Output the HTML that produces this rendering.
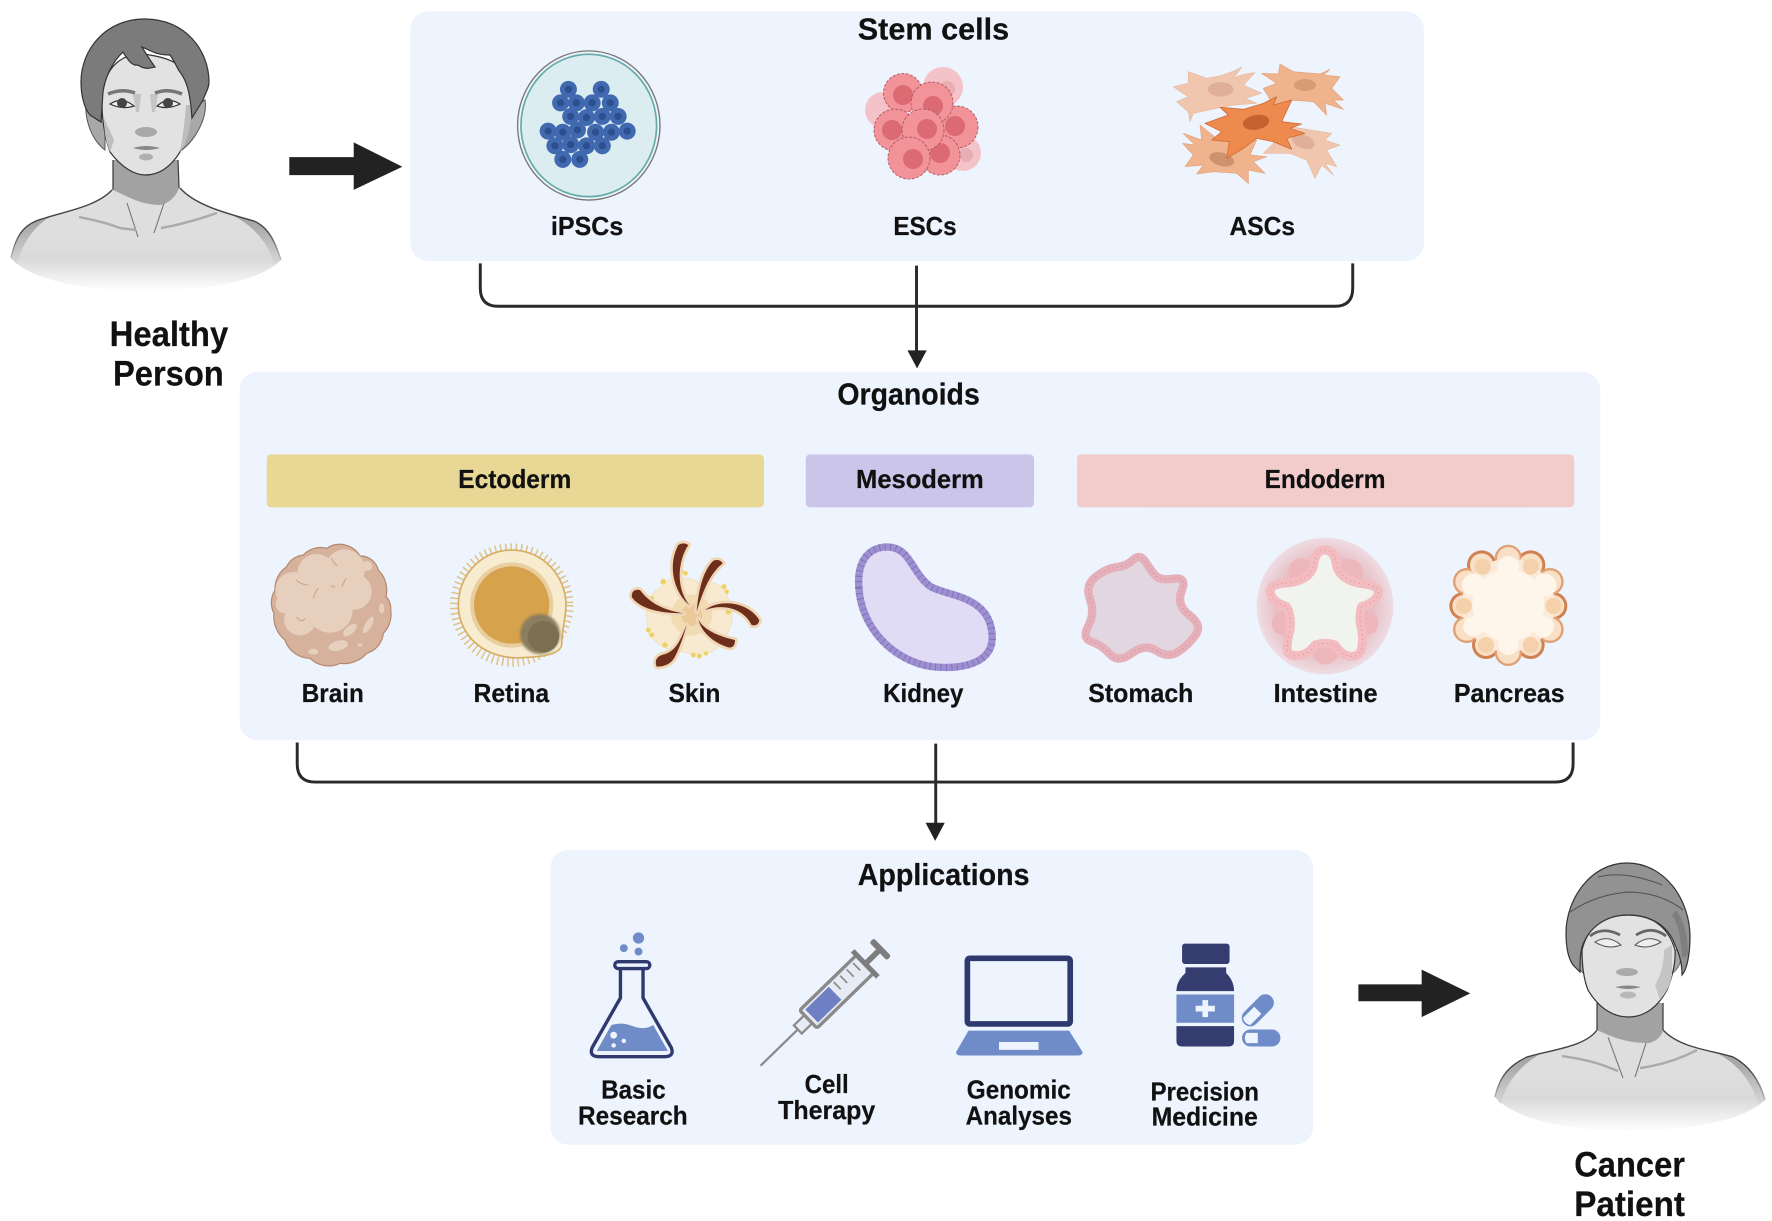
<!DOCTYPE html>
<html lang="en">
<head>
<meta charset="utf-8">
<title>Stem cells to organoids</title>
<style>
html,body{margin:0;padding:0;background:#fff}
svg{display:block}
text{font-family:"Liberation Sans",sans-serif;font-weight:bold;fill:#111;text-anchor:middle;stroke:#111;stroke-width:.2px}
.l{font-size:23px}
.h{font-size:27px}
.p{font-size:31px}
.a{font-size:23px}
</style>
</head>
<body>
<svg xmlns="http://www.w3.org/2000/svg" width="1772" height="1221" viewBox="0 0 1568 1080.4">
<defs>
<linearGradient id="fade1" gradientUnits="userSpaceOnUse" x1="0" y1="238" x2="0" y2="291"><stop offset="0" stop-color="#dedede"/><stop offset=".4" stop-color="#d9d9d9"/><stop offset="1" stop-color="#fff"/></linearGradient>
<linearGradient id="sh1" gradientUnits="userSpaceOnUse" x1="0" y1="225" x2="0" y2="268"><stop offset="0" stop-color="#a8a8a8"/><stop offset="1" stop-color="#dcdcdc"/></linearGradient>
<linearGradient id="ln1" gradientUnits="userSpaceOnUse" x1="0" y1="232" x2="0" y2="266"><stop offset="0" stop-color="#444"/><stop offset="1" stop-color="#ddd"/></linearGradient>
<linearGradient id="fade2" gradientUnits="userSpaceOnUse" x1="0" y1="1075" x2="0" y2="1132"><stop offset="0" stop-color="#dedede"/><stop offset=".4" stop-color="#d9d9d9"/><stop offset="1" stop-color="#fff"/></linearGradient>
<linearGradient id="sh2" gradientUnits="userSpaceOnUse" x1="0" y1="1065" x2="0" y2="1108"><stop offset="0" stop-color="#a8a8a8"/><stop offset="1" stop-color="#dcdcdc"/></linearGradient>
<linearGradient id="ln2" gradientUnits="userSpaceOnUse" x1="0" y1="1070" x2="0" y2="1108"><stop offset="0" stop-color="#444"/><stop offset="1" stop-color="#ddd"/></linearGradient>
<radialGradient id="intg" cx=".5" cy=".5" r=".5"><stop offset="0" stop-color="#dfa6ad"/><stop offset=".72" stop-color="#e8c0c7"/><stop offset="1" stop-color="#eedde3"/></radialGradient>
<filter id="b1" x="-30%" y="-30%" width="160%" height="160%"><feGaussianBlur stdDeviation="4"/></filter>
</defs>

<!-- panels -->
<rect x="363" y="10" width="897" height="221" rx="16" fill="#edf4fd"/>
<rect x="212" y="329" width="1204" height="326" rx="16" fill="#edf4fd"/>
<rect x="487" y="752" width="675" height="261" rx="16" fill="#edf4fd"/>

<!-- big arrows -->
<path d="M256,139H313V126L356,147.500L313,168V155H256Z" fill="#222"/>
<path d="M1202,871H1258V858L1301,879L1258,900V886H1202Z" fill="#222"/>

<!-- brackets -->
<g fill="none" stroke="#2a2a2a" stroke-width="2.600">
<path d="M425,233V255Q425,271 441,271H1181Q1197,271 1197,255V233"/>
<path d="M811,235V311"/>
<path d="M263,657V676Q263,692 279,692H1376Q1392,692 1392,676V657"/>
<path d="M828,658V729"/>
</g>
<path d="M803,310H820L811.500,326Z" fill="#222"/>
<path d="M819,728H836L827.500,744Z" fill="#222"/>

<!-- bands -->
<rect x="236" y="402" width="440" height="47" rx="4" fill="#e9d795"/>
<rect x="713" y="402" width="202" height="47" rx="4" fill="#cbc5e9"/>
<rect x="953" y="402" width="440" height="47" rx="4" fill="#f2cbcb"/>

<!-- all illustrations below use real reference pixel coordinates -->
<g transform="scale(.88488)">

<!-- healthy person -->
<g>
<path d="M11,258C16,235 24,226 36,221C60,212 95,208 112,190L180,188C195,205 225,213 254,221C270,228 276,245 281,260C262,280 210,291 146,291C85,291 30,280 11,258Z" fill="url(#fade1)"/>
<path d="M11,258C16,235 24,226 36,221L50,217C34,226 22,244 17,264Z" fill="url(#sh1)"/>
<path d="M281,260C276,245 270,228 254,221L232,215C250,224 268,240 274,264Z" fill="url(#sh1)"/>
<path d="M11,258C16,235 24,226 36,221C60,212 95,208 112,190M180,188C195,205 225,213 254,221C270,228 276,245 281,260" fill="none" stroke="url(#ln1)" stroke-width="1.400"/>
<path d="M113,160V190C125,195 140,205 160,205C170,203 176,196 179,188L178,160Z" fill="#a2a2a2"/>
<path d="M113,160V190M178,160L179,188" fill="none" stroke="#444" stroke-width="1.300"/>
<path d="M127,203L138,237M164,203L154,233" fill="none" stroke="#777" stroke-width="1.100"/>
<path d="M79,217Q105,222 120,228L136,230M161,228Q185,224 217,213" fill="none" stroke="#aaa" stroke-width="2.400"/>
<path d="M86,100C84,120 92,140 105,150L105,110ZM205,100C208,118 195,140 182,150L190,110Z" fill="#a8a8a8" stroke="#555"/>
<path d="M103,88C100,110 104,135 110,152C122,168 135,175 145,175C158,175 170,168 180,152C187,135 194,110 192,90C188,70 180,60 150,55C125,50 108,65 103,88Z" fill="#e2e2e2" stroke="#333" stroke-width="1.200"/>
<path d="M192,105C191,130 186,145 180,152C183,135 185,120 186,105ZM104,118C104,132 106,142 110,152L114,140Z" fill="#bdbdbd"/>
<path d="M133,94L141,94L139,112L136,112ZM150,94L158,94L155,112L152,112Z" fill="#c4c4c4"/>
<path d="M145,19C105,19 81,50 81,82C81,95 84,108 90,115L101,122L103,92C105,78 112,62 123,52C128,60 132,66 138,65C145,70 150,68 155,67C150,60 145,52 142,47C150,50 155,55 170,55C175,62 178,70 180,72C186,80 190,90 192,118L203,100C206,92 209,88 209,82C209,50 185,19 145,19Z" fill="#7b7b7b" stroke="#333" stroke-width="1.200"/>
<path d="M108,94Q122,88 135,93M155,93Q168,88 182,94" fill="none" stroke="#777" stroke-width="3.500"/>
<path d="M110,104Q122,96 134,106Q122,110 110,104ZM157,106Q168,96 180,104Q168,110 157,106Z" fill="#efefef" stroke="#333" stroke-width="1.200"/>
<circle cx="122" cy="103" r="5" fill="#444"/><circle cx="168" cy="103" r="5" fill="#444"/>
<ellipse cx="146" cy="132" rx="11" ry="5" fill="#a8a8a8"/>
<path d="M133,148Q146,144 160,148Q146,152 133,148Z" fill="#888"/>
<ellipse cx="146" cy="157" rx="7" ry="3.500" fill="#b0b0b0"/>
</g>

<!-- cancer patient -->
<g>
<path d="M1495,1097C1500,1075 1510,1065 1527,1057C1550,1050 1585,1047 1597,1030L1663,1030C1680,1048 1710,1050 1733,1057C1750,1066 1760,1082 1765,1100C1745,1120 1690,1131 1630,1131C1570,1131 1515,1120 1495,1097Z" fill="url(#fade2)"/>
<path d="M1495,1097C1500,1075 1510,1065 1527,1057L1540,1054C1520,1066 1506,1082 1501,1104Z" fill="url(#sh2)"/>
<path d="M1765,1100C1760,1082 1750,1066 1733,1057L1715,1052C1735,1062 1752,1080 1758,1104Z" fill="url(#sh2)"/>
<path d="M1495,1097C1500,1075 1510,1065 1527,1057C1550,1050 1585,1047 1597,1030M1663,1030C1680,1048 1710,1050 1733,1057C1750,1066 1760,1082 1765,1100" fill="none" stroke="url(#ln2)" stroke-width="1.400"/>
<path d="M1597,1003V1030C1610,1036 1625,1043 1648,1043C1656,1042 1662,1036 1663,1030V1003Z" fill="#a2a2a2"/>
<path d="M1597,1003V1030M1663,1003V1030" fill="none" stroke="#444" stroke-width="1.300"/>
<path d="M1608,1037L1623,1078M1646,1043L1635,1077" fill="none" stroke="#777" stroke-width="1.100"/>
<path d="M1562,1056Q1590,1060 1605,1066L1618,1071M1640,1068Q1670,1064 1697,1050" fill="none" stroke="#aaa" stroke-width="2.400"/>
<path d="M1574,950C1574,965 1580,972 1588,976L1588,950ZM1682,950C1682,965 1676,972 1668,976L1668,950Z" fill="#a8a8a8" stroke="#666"/>
<path d="M1582,950C1582,965 1584,980 1588,990C1600,1010 1615,1017 1628,1017C1642,1017 1656,1010 1667,990C1671,980 1676,965 1675,950C1668,925 1650,915 1628,915C1605,915 1588,925 1582,950Z" fill="#e2e2e2" stroke="#333" stroke-width="1.200"/>
<path d="M1672,975C1670,985 1668,990 1660,1000L1655,985Q1664,970 1664,950L1672,945Z" fill="#c4c4c4"/>
<path d="M1627,863C1590,863 1566,900 1566,933C1566,948 1568,958 1573,965L1580,972C1580,960 1580,950 1584,942C1592,925 1608,915 1628,915C1650,915 1668,925 1675,945C1680,955 1682,965 1682,975C1688,968 1690,950 1690,937C1690,900 1665,863 1627,863Z" fill="#929292" stroke="#333" stroke-width="1.200"/>
<path d="M1570,912Q1595,895 1627,892Q1660,892 1683,910M1598,877Q1625,870 1662,885" fill="none" stroke="#555" stroke-width="1.100"/>
<path d="M1676,910C1685,922 1688,938 1688,955L1682,958C1681,940 1679,925 1672,915Z" fill="#7f7f7f"/>
<path d="M1590,936Q1603,926 1620,935M1636,935Q1652,925 1666,936" fill="none" stroke="#666" stroke-width="2.800"/>
<path d="M1595,942Q1608,934 1621,945Q1608,950 1595,942ZM1635,945Q1648,934 1661,942Q1648,950 1635,945Z" fill="#eee" stroke="#555"/>
<ellipse cx="1627" cy="972" rx="11" ry="4" fill="#aaa"/>
<path d="M1615,987Q1628,984 1641,987Q1628,991 1615,987Z" fill="#888"/>
<ellipse cx="1628" cy="995" rx="8" ry="3.500" fill="#b8b8b8"/>
</g>

<!-- iPSC dish -->
<g transform="scale(1.13010)">
<ellipse cx="521" cy="111" rx="63" ry="66" fill="none" stroke="#777" stroke-width="1.200"/>
<ellipse cx="521" cy="111" rx="60" ry="63" fill="#dcedf2" stroke="#6aa" stroke-width="1.500"/>
<g fill="#4169af"><circle cx="503" cy="79" r="7.500"/><circle cx="532" cy="79" r="7.500"/><circle cx="496" cy="91" r="7.500"/><circle cx="510" cy="91" r="7.500"/><circle cx="524" cy="91" r="7.500"/><circle cx="540" cy="91" r="7.500"/><circle cx="505" cy="103" r="7.500"/><circle cx="519" cy="104" r="7.500"/><circle cx="533" cy="103" r="7.500"/><circle cx="547" cy="103" r="7.500"/><circle cx="485" cy="116" r="7.500"/><circle cx="498" cy="117" r="7.500"/><circle cx="511" cy="115" r="7.500"/><circle cx="527" cy="117" r="7.500"/><circle cx="541" cy="117" r="7.500"/><circle cx="555" cy="116" r="7.500"/><circle cx="491" cy="129" r="7.500"/><circle cx="505" cy="128" r="7.500"/><circle cx="519" cy="129" r="7.500"/><circle cx="533" cy="129" r="7.500"/><circle cx="498" cy="141" r="7.500"/><circle cx="513" cy="141" r="7.500"/></g>
<g fill="#2c4f90"><circle cx="503" cy="79" r="3.200"/><circle cx="532" cy="79" r="3.200"/><circle cx="496" cy="91" r="3.200"/><circle cx="510" cy="91" r="3.200"/><circle cx="524" cy="91" r="3.200"/><circle cx="540" cy="91" r="3.200"/><circle cx="505" cy="103" r="3.200"/><circle cx="519" cy="104" r="3.200"/><circle cx="533" cy="103" r="3.200"/><circle cx="547" cy="103" r="3.200"/><circle cx="485" cy="116" r="3.200"/><circle cx="498" cy="117" r="3.200"/><circle cx="511" cy="115" r="3.200"/><circle cx="527" cy="117" r="3.200"/><circle cx="541" cy="117" r="3.200"/><circle cx="555" cy="116" r="3.200"/><circle cx="491" cy="129" r="3.200"/><circle cx="505" cy="128" r="3.200"/><circle cx="519" cy="129" r="3.200"/><circle cx="533" cy="129" r="3.200"/><circle cx="498" cy="141" r="3.200"/><circle cx="513" cy="141" r="3.200"/></g>
</g>

<!-- ESCs -->
<g>
<g fill="#f4c3c9"><circle cx="943" cy="87" r="20"/><circle cx="963" cy="153" r="18"/><circle cx="883" cy="110" r="18"/></g>
<g fill="#e9adb4"><circle cx="947" cy="89" r="8"/><circle cx="966" cy="155" r="7"/></g>
<g fill="#f29299" stroke="#b4555e" stroke-width=".9" stroke-dasharray="3 1.500">
<circle cx="903" cy="93" r="19.500"/><circle cx="957" cy="127" r="21"/><circle cx="940" cy="155" r="20"/><circle cx="895" cy="130" r="21"/>
</g>
<circle cx="903" cy="95" r="10" fill="#db6a73"/>
<circle cx="955" cy="126" r="10" fill="#db6a73"/>
<circle cx="940" cy="153" r="10" fill="#db6a73"/>
<circle cx="892" cy="130" r="10" fill="#db6a73"/>
<circle cx="932" cy="103" r="21" fill="#f29299" stroke="#b4555e" stroke-width=".9" stroke-dasharray="3 1.500"/>
<circle cx="933" cy="106" r="10" fill="#db6a73"/>
<circle cx="923" cy="130" r="21" fill="#f29299" stroke="#b4555e" stroke-width=".9" stroke-dasharray="3 1.500"/>
<circle cx="927" cy="129" r="10" fill="#db6a73"/>
<circle cx="909" cy="158" r="21" fill="#f29299" stroke="#b4555e" stroke-width=".9" stroke-dasharray="3 1.500"/>
<circle cx="913" cy="159" r="10" fill="#db6a73"/>
</g>

<!-- ASCs -->
<g transform="translate(860,50) scale(.33333)" stroke-linejoin="round">
<path d="M940,110L985,100L985,65L1040,85Q1090,80 1145,52L1120,85Q1150,70 1185,68L1150,105L1205,130L1155,145L1190,160L1120,165L1070,175L1000,190L990,215L985,185L950,155L985,140Z" fill="#f0c7ae" stroke="#e8b89c" stroke-width="2"/>
<ellipse cx="1082" cy="118" rx="38" ry="22" fill="#dfb097"/>
<path d="M1205,70L1255,72L1260,42L1300,65L1380,72L1410,58L1390,75L1440,80L1415,115L1450,150L1420,150L1450,178L1395,160L1400,195L1360,155L1290,150L1240,165L1210,115L1250,100Z" fill="#efb48e" stroke="#e3a078" stroke-width="2"/>
<ellipse cx="1335" cy="105" rx="33" ry="18" fill="#d99a76"/>
<path d="M1210,310L1290,230L1415,250L1395,270L1440,285L1400,300L1430,350L1395,340L1420,375L1385,345L1365,385L1340,330L1290,310Z" fill="#f0c7ae" stroke="#e8b89c" stroke-width="2"/>
<ellipse cx="1330" cy="275" rx="35" ry="20" fill="#dfb097" transform="rotate(20 1330 275)"/>
<path d="M970,250L1025,270L1020,225L1075,270L1190,270L1170,315L1220,320L1180,335L1215,370L1165,360L1165,400L1130,370L1060,365L1010,372L1030,345L975,350L1000,315L968,280L1005,285Z" fill="#efb48e" stroke="#e3a078" stroke-width="2"/>
<ellipse cx="1085" cy="328" rx="38" ry="20" fill="#cf9270" transform="rotate(15 1085 328)"/>
<path d="M1035,220L1105,195L1080,172L1150,178L1210,160L1250,140L1240,165L1295,150L1265,215L1325,222L1290,235L1335,250L1280,265L1295,298L1240,275L1190,265L1150,295L1100,325L1108,275L1055,270L1085,245Z" fill="#ef8a4e" stroke="#cf6c35" stroke-width="2.500"/>
<ellipse cx="1188" cy="217" rx="40" ry="22" fill="#c5622f" transform="rotate(-10 1188 217)"/>
</g>

<!-- Brain / Retina -->
<g transform="translate(260,530) scale(.33333)">
<path d="M200,55A70,70 0 0 1 300,78A55,55 0 0 1 355,120A85,85 0 0 1 378,200A50,50 0 0 1 392,240A80,80 0 0 1 370,310A70,70 0 0 1 320,370A90,90 0 0 1 240,400A80,80 0 0 1 150,385A80,80 0 0 1 75,330A90,90 0 0 1 42,250A70,70 0 0 1 45,180A80,80 0 0 1 80,110A60,60 0 0 1 130,75A70,70 0 0 1 200,55Z" fill="#d6b29d" stroke="#b5856b" stroke-width="3.500"/>
<g fill="#e7cfbd"><circle cx="170" cy="130" r="58"/><circle cx="255" cy="118" r="60"/><circle cx="280" cy="185" r="55"/><circle cx="100" cy="180" r="54"/><circle cx="210" cy="240" r="68"/><circle cx="120" cy="268" r="48"/><circle cx="75" cy="222" r="28"/><circle cx="155" cy="200" r="50"/></g>
<circle cx="322" cy="108" r="15" fill="#e7cfbd"/>
<path d="M108,150Q125,165 145,165M215,85Q222,100 232,108M245,170L258,145M160,205Q165,185 175,175M110,262Q125,280 135,265" fill="none" stroke="#c9a085" stroke-width="3"/>
<g fill="#e7cfbd"><ellipse cx="325" cy="285" rx="10" ry="28" transform="rotate(30 325 285)"/><ellipse cx="270" cy="300" rx="12" ry="25" transform="rotate(50 270 300)"/><ellipse cx="235" cy="347" rx="30" ry="15" transform="rotate(-15 235 347)"/><ellipse cx="160" cy="365" rx="15" ry="9"/><ellipse cx="365" cy="235" rx="8" ry="15"/><ellipse cx="300" cy="345" rx="8" ry="5"/></g>
<circle cx="755" cy="225" r="172" fill="none" stroke="#dfc285" stroke-width="26" stroke-dasharray="4.500 11"/>
<path d="M595,225C595,130 670,60 755,60C850,60 918,140 918,225C918,260 905,300 905,345C900,370 860,380 800,382C680,395 595,320 595,225Z" fill="#f7ebd0" stroke="#d8ac62" stroke-width="5"/>
<ellipse cx="755" cy="225" rx="125" ry="128" fill="#e8cf9f"/>
<ellipse cx="755" cy="225" rx="113" ry="116" fill="#d6a24b"/>
<circle cx="840" cy="312" r="60" fill="#8a7e5e" filter="url(#b1)"/>
<circle cx="850" cy="320" r="47" fill="#7a6f50"/>
</g>

<!-- Skin -->
<g transform="translate(620,530) scale(.33333)">
<path d="M80,265C75,220 90,190 125,170C150,130 220,140 240,160C280,150 320,165 325,210C350,260 330,300 310,330C290,370 240,385 190,365C140,370 100,330 85,310Z" fill="#f7ead0" stroke="#eddcb9" stroke-width="2"/>
<circle cx="215" cy="255" r="62" fill="#f2dcb4"/>
<circle cx="215" cy="255" r="32" fill="#ecc998"/>
<g fill="#edd067" stroke="#f6ebb8" stroke-width="2"><circle cx="185" cy="125" r="8"/><circle cx="197" cy="130" r="7"/><circle cx="130" cy="155" r="9"/><circle cx="95" cy="205" r="8"/><circle cx="312" cy="170" r="8"/><circle cx="320" cy="185" r="7"/><circle cx="325" cy="245" r="9"/><circle cx="85" cy="300" r="8"/><circle cx="95" cy="315" r="8"/><circle cx="135" cy="345" r="9"/><circle cx="220" cy="375" r="8"/><circle cx="238" cy="378" r="8"/><circle cx="258" cy="370" r="7"/></g>
<g fill="#6d2f1c" stroke="#f0d7b5" stroke-width="16" stroke-linejoin="round" paint-order="stroke">
<path d="M208,225C165,190 140,110 175,45Q190,35 205,45C175,90 165,170 208,225Z"/>
<path d="M230,245C235,180 250,120 280,92Q300,85 308,100C270,130 250,180 230,245Z"/>
<path d="M190,250C130,250 60,240 35,200Q35,175 60,180C90,220 130,240 190,250Z"/>
<path d="M255,240C300,205 385,215 418,270Q415,290 395,285C370,235 310,220 255,240Z"/>
<path d="M235,268C250,300 300,320 345,330Q345,355 325,352C285,340 245,310 235,268Z"/>
<path d="M200,285C180,330 170,365 125,375Q100,385 110,410Q150,410 165,380C180,350 190,320 200,285Z"/>
</g>
</g>

<!-- Kidney -->
<g transform="scale(1.13010)">
<path d="M760,520C758,495 770,484 785,484C805,484 806,505 822,518C835,528 878,525 878,565C877,590 845,592 825,590C790,585 762,555 760,520Z" fill="#e1dcf5" stroke="#9d8fd0" stroke-width="6.500" stroke-linejoin="round"/>
<path d="M760,520C758,495 770,484 785,484C805,484 806,505 822,518C835,528 878,525 878,565C877,590 845,592 825,590C790,585 762,555 760,520Z" fill="none" stroke="#7f70bb" stroke-width="6.500" stroke-dasharray=".8 4"/>
</g>

<!-- Stomach, Intestine, Pancreas -->
<g transform="translate(1060,530) scale(.33333)" stroke-linejoin="round">
<path d="M107.500,140Q140,115 170,111.500Q200,108 220,89Q240,70 256,95Q272,120 286,136Q300,152 341,146Q382,140 365,182.500Q348,225 388,255Q428,285 406.500,315Q385,345 355,365Q325,385 290,362.500Q255,340 215,370Q175,400 150,372.500Q125,345 95,335Q65,325 85,287.500Q105,250 90,207.500Q75,165 107.500,140Z" fill="#e2d6e0" stroke="#e5b0ba" stroke-width="25"/>
<path d="M107.500,140Q140,115 170,111.500Q200,108 220,89Q240,70 256,95Q272,120 286,136Q300,152 341,146Q382,140 365,182.500Q348,225 388,255Q428,285 406.500,315Q385,345 355,365Q325,385 290,362.500Q255,340 215,370Q175,400 150,372.500Q125,345 95,335Q65,325 85,287.500Q105,250 90,207.500Q75,165 107.500,140Z" fill="none" stroke="#c48b97" stroke-width="3" stroke-dasharray="3 11"/>

<circle cx="795" cy="228" r="205" fill="url(#intg)"/>
<g fill="#ecb6bb"><circle cx="725" cy="125" r="40"/><circle cx="870" cy="125" r="38"/><circle cx="670" cy="280" r="35"/><circle cx="920" cy="280" r="35"/><circle cx="797" cy="365" r="38"/></g>
<path d="M795,60Q825,60 830,110Q845,150 900,160Q960,165 955,190Q950,215 905,230Q895,260 905,300Q915,370 885,378Q850,385 825,345Q795,335 765,345Q735,385 695,375Q670,370 690,300Q695,260 680,230Q635,215 630,185Q630,160 690,158Q745,150 760,110Q765,60 795,60Z" fill="#f1f4ee" stroke="#f3bcc0" stroke-width="27"/>
<path d="M795,60Q825,60 830,110Q845,150 900,160Q960,165 955,190Q950,215 905,230Q895,260 905,300Q915,370 885,378Q850,385 825,345Q795,335 765,345Q735,385 695,375Q670,370 690,300Q695,260 680,230Q635,215 630,185Q630,160 690,158Q745,150 760,110Q765,60 795,60Z" fill="none" stroke="#d68d95" stroke-width="3" stroke-dasharray="3 11"/>

<g fill="#cf8150"><circle cx="1265" cy="105" r="44"/><circle cx="1412" cy="105" r="44"/><circle cx="1210" cy="228" r="42"/><circle cx="1480" cy="228" r="42"/><circle cx="1278" cy="345" r="42"/><circle cx="1412" cy="345" r="42"/></g>
<g fill="#e0a073"><circle cx="1345" cy="85" r="41"/><circle cx="1470" cy="155" r="41"/><circle cx="1470" cy="298" r="41"/><circle cx="1345" cy="367" r="41"/><circle cx="1220" cy="298" r="41"/><circle cx="1220" cy="155" r="41"/></g>
<g fill="#f8dfc5"><circle cx="1345" cy="85" r="34"/><circle cx="1470" cy="155" r="34"/><circle cx="1470" cy="298" r="34"/><circle cx="1345" cy="367" r="34"/><circle cx="1220" cy="298" r="34"/><circle cx="1220" cy="155" r="34"/><circle cx="1265" cy="105" r="35"/><circle cx="1412" cy="105" r="35"/><circle cx="1210" cy="228" r="33"/><circle cx="1480" cy="228" r="33"/><circle cx="1278" cy="345" r="33"/><circle cx="1412" cy="345" r="33"/></g>
<circle cx="1345" cy="226" r="140" fill="#fbeada"/>
<g fill="#f4d0ab"><circle cx="1268" cy="110" r="24"/><circle cx="1412" cy="110" r="24"/><circle cx="1212" cy="228" r="24"/><circle cx="1480" cy="228" r="24"/><circle cx="1278" cy="345" r="24"/><circle cx="1412" cy="345" r="24"/></g>
<g fill="#fef6ea"><circle cx="1345" cy="226" r="108"/><circle cx="1345" cy="110" r="32"/><circle cx="1345" cy="345" r="30"/><circle cx="1455" cy="165" r="34"/><circle cx="1240" cy="165" r="34"/><circle cx="1450" cy="290" r="32"/><circle cx="1240" cy="290" r="30"/></g>
</g>
</g>

<!-- Flask -->
<g>
<circle cx="565" cy="830" r="5" fill="#6f8cc8"/><circle cx="552" cy="839" r="3.500" fill="#6f8cc8"/><circle cx="565" cy="842" r="3.500" fill="#6f8cc8"/>
<path d="M541,907Q550,904 560,908Q570,912 578,907L591,930H528Z" fill="#6f8cc8"/>
<circle cx="543" cy="916" r="3" fill="#edf4fd"/><circle cx="552" cy="921" r="2" fill="#edf4fd"/><circle cx="543" cy="925" r="2" fill="#edf4fd"/>
<path d="M549,857V883L524,927Q521,935 530,935H588Q597,935 594,927L569,883V857" fill="none" stroke="#2e3a6e" stroke-width="3"/>
<rect x="544" y="851" width="31" height="6" rx="3" fill="#edf4fd" stroke="#2e3a6e" stroke-width="3"/>
</g>

<!-- Syringe -->
<g transform="translate(673,943) rotate(-44.200)">
<line x1="0" y1="0" x2="46" y2="0" stroke="#8a8a8a" stroke-width="2"/>
<rect x="46" y="-5" width="13" height="10" fill="#e7ebf3" stroke="#8a8a8a" stroke-width="2"/>
<rect x="59" y="-11" width="70" height="22" rx="2" fill="#e7ebf3" stroke="#8a8a8a" stroke-width="3"/>
<rect x="63" y="-8" width="29" height="16" fill="#6f7fc4"/>
<path d="M98,-8V1M106,-8V1M114,-8V1M122,-8V1" stroke="#8a8a8a" stroke-width="1.500"/>
<rect x="127" y="-16" width="4.500" height="32" fill="#7d7d7d"/>
<rect x="131" y="-2.500" width="15" height="5" fill="#7d7d7d"/>
<rect x="145" y="-11" width="5.500" height="22" rx="2" fill="#7d7d7d"/>
</g>

<!-- Laptop -->
<g>
<rect x="856" y="848" width="91" height="58" rx="2" fill="none" stroke="#2e3a6e" stroke-width="5"/>
<path d="M857,912H946L958,931Q958,934 954,934H850Q846,934 846,931Z" fill="#6f8cc8"/>
<rect x="884" y="922" width="35" height="7" fill="#edf4fd"/>
</g>

<!-- Bottle and pills -->
<g>
<rect x="1046" y="835" width="42" height="18" rx="2.500" fill="#343c70"/>
<path d="M1049,856H1085V861Q1092,868 1092,877H1041Q1041,868 1049,861Z" fill="#343c70"/>
<rect x="1041" y="880" width="51" height="25" fill="#6f8cc8"/>
<path d="M1064,885H1069V890H1075V895H1069V900H1064V895H1058V890H1064Z" fill="#edf4fd"/>
<path d="M1041,908H1092V921Q1092,926 1087,926H1046Q1041,926 1041,921Z" fill="#343c70"/>
<g transform="translate(1113,894) rotate(-45)"><rect x="-17" y="-7.500" width="34" height="15" rx="7.500" fill="#6f8cc8"/><path d="M-14,-4.500H0V4.500H-14Q-17,0 -14,-4.500Z" fill="#edf4fd"/></g>
<rect x="1099" y="911" width="34" height="15" rx="7.500" fill="#6f8cc8"/>
<path d="M1103,914H1113V923H1103Q1100,918.500 1103,914Z" fill="#edf4fd"/>
</g>

<!-- labels -->
<text class="h" x="826" y="35" textLength="134" lengthAdjust="spacingAndGlyphs">Stem cells</text>
<text class="l" x="519.500" y="208" textLength="64" lengthAdjust="spacingAndGlyphs">iPSCs</text>
<text class="l" x="818.500" y="208" textLength="56" lengthAdjust="spacingAndGlyphs">ESCs</text>
<text class="l" x="1117" y="208" textLength="58" lengthAdjust="spacingAndGlyphs">ASCs</text>
<text class="p" x="149.500" y="306" textLength="105" lengthAdjust="spacingAndGlyphs">Healthy</text>
<text class="p" x="149" y="341" textLength="98" lengthAdjust="spacingAndGlyphs">Person</text>
<text class="h" x="804" y="358" textLength="126" lengthAdjust="spacingAndGlyphs">Organoids</text>
<text class="l" x="455.500" y="432" textLength="100" lengthAdjust="spacingAndGlyphs">Ectoderm</text>
<text class="l" x="814" y="432" textLength="113" lengthAdjust="spacingAndGlyphs">Mesoderm</text>
<text class="l" x="1172.500" y="432" textLength="107" lengthAdjust="spacingAndGlyphs">Endoderm</text>
<text class="l" x="294.500" y="621" textLength="55" lengthAdjust="spacingAndGlyphs">Brain</text>
<text class="l" x="452.500" y="621" textLength="67" lengthAdjust="spacingAndGlyphs">Retina</text>
<text class="l" x="614.500" y="621" textLength="46" lengthAdjust="spacingAndGlyphs">Skin</text>
<text class="l" x="817" y="621" textLength="71" lengthAdjust="spacingAndGlyphs">Kidney</text>
<text class="l" x="1009.500" y="621" textLength="93" lengthAdjust="spacingAndGlyphs">Stomach</text>
<text class="l" x="1173" y="621" textLength="92" lengthAdjust="spacingAndGlyphs">Intestine</text>
<text class="l" x="1335.500" y="621" textLength="98" lengthAdjust="spacingAndGlyphs">Pancreas</text>
<text class="h" x="835" y="783" textLength="152" lengthAdjust="spacingAndGlyphs">Applications</text>
<text class="a" x="560.500" y="972" textLength="57" lengthAdjust="spacingAndGlyphs">Basic</text>
<text class="a" x="560" y="995" textLength="97" lengthAdjust="spacingAndGlyphs">Research</text>
<text class="a" x="731.500" y="967" textLength="39" lengthAdjust="spacingAndGlyphs">Cell</text>
<text class="a" x="731.500" y="990" textLength="86" lengthAdjust="spacingAndGlyphs">Therapy</text>
<text class="a" x="901.500" y="972" textLength="92" lengthAdjust="spacingAndGlyphs">Genomic</text>
<text class="a" x="901.500" y="995" textLength="94" lengthAdjust="spacingAndGlyphs">Analyses</text>
<text class="a" x="1066" y="974" textLength="96" lengthAdjust="spacingAndGlyphs">Precision</text>
<text class="a" x="1066" y="996" textLength="94" lengthAdjust="spacingAndGlyphs">Medicine</text>
<text class="p" x="1442" y="1041" textLength="98" lengthAdjust="spacingAndGlyphs">Cancer</text>
<text class="p" x="1442" y="1076" textLength="98" lengthAdjust="spacingAndGlyphs">Patient</text>
</svg>
</body>
</html>
